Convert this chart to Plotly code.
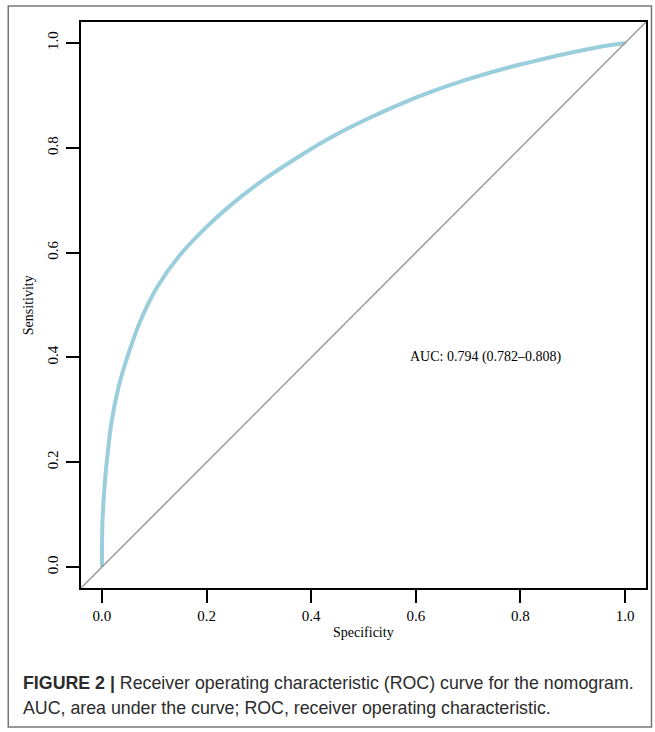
import plotly.graph_objects as go

# Data
specificity = [0.0, 0.001, 0.006, 0.011, 0.019, 0.032, 0.051, 0.074, 0.106, 0.148, 0.200, 0.249,
               0.312, 0.376, 0.440, 0.503, 0.567, 0.630, 0.694, 0.758, 0.821, 0.885, 0.948, 1.0]
sensitivity = [0.0, 0.085, 0.166, 0.217, 0.281, 0.344, 0.408, 0.471, 0.535, 0.594, 0.649, 0.693,
               0.741, 0.783, 0.821, 0.853, 0.882, 0.907, 0.929, 0.948, 0.964, 0.979, 0.992, 1.0]
diag_x = [-0.04, 1.04]
diag_y = [-0.04, 1.04]
tick_vals = [0.0, 0.2, 0.4, 0.6, 0.8, 1.0]
tick_text = ["0.0", "0.2", "0.4", "0.6", "0.8", "1.0"]
auc_label = "AUC: 0.794 (0.782–0.808)"
caption_bold = "FIGURE 2 |"
caption_line1 = " Receiver operating characteristic (ROC) curve for the nomogram."
caption_line2 = "AUC, area under the curve; ROC, receiver operating characteristic."

W, H = 655, 732
L, R, T, B = 81, 648, 22, 588

def px(x):
    return (x - L) / (R - L)

def py(y):
    return (B - y) / (B - T)

serif = "Liberation Serif, Times New Roman, serif"
sans = "Liberation Sans, Arial, sans-serif"

fig = go.Figure()
fig.add_trace(go.Scatter(x=specificity, y=sensitivity, mode="lines",
                         line=dict(color="#9BCEDC", width=4, shape="spline", smoothing=1.0),
                         hoverinfo="skip", showlegend=False))
fig.add_trace(go.Scatter(x=diag_x, y=diag_y, mode="lines",
                         line=dict(color="#9a9a9a", width=1.5),
                         hoverinfo="skip", showlegend=False))

axis_common = dict(range=[-0.04, 1.04], showgrid=False, zeroline=False,
                   showline=True, linecolor="black", linewidth=2, mirror=True,
                   ticks="outside", ticklen=13, tickwidth=2, tickcolor="black",
                   tickvals=tick_vals, ticktext=tick_text,
                   tickfont=dict(family=serif, size=15, color="black"))

fig.update_layout(
    width=W, height=H,
    margin=dict(l=L, r=W - R, t=T, b=H - B),
    paper_bgcolor="white", plot_bgcolor="white",
    xaxis=dict(**axis_common, ticklabelstandoff=0),
    yaxis=dict(**axis_common, tickangle=-90, ticklabelstandoff=2),
    showlegend=False,
)

fig.add_annotation(x=0.735, y=0.401, xref="x", yref="y", text=auc_label, showarrow=False,
                   font=dict(family=serif, size=14, color="black"), xanchor="center", yanchor="middle")

fig.add_annotation(x=px(365), y=py(633), xref="paper", yref="paper", text="Specificity",
                   showarrow=False, font=dict(family=serif, size=14, color="black"),
                   xanchor="center", yanchor="middle")
fig.add_annotation(x=px(28), y=py(305), xref="paper", yref="paper", text="Sensitivity",
                   showarrow=False, textangle=-90, font=dict(family=serif, size=14, color="black"),
                   xanchor="center", yanchor="middle")

fig.add_annotation(x=px(21), y=py(683), xref="paper", yref="paper",
                   text="<b>" + caption_bold + "</b>" + caption_line1,
                   showarrow=False, font=dict(family=sans, size=17.8, color="#2b2b2b"),
                   xanchor="left", yanchor="middle")
fig.add_annotation(x=px(21), y=py(708), xref="paper", yref="paper",
                   text=caption_line2,
                   showarrow=False, font=dict(family=sans, size=17.8, color="#2b2b2b"),
                   xanchor="left", yanchor="middle")

fig.add_shape(type="rect", xref="paper", yref="paper",
              x0=px(8), x1=px(653.5), y0=py(727), y1=py(6),
              line=dict(color="#777777", width=1.5), layer="below")

fig.write_html("out.html")
